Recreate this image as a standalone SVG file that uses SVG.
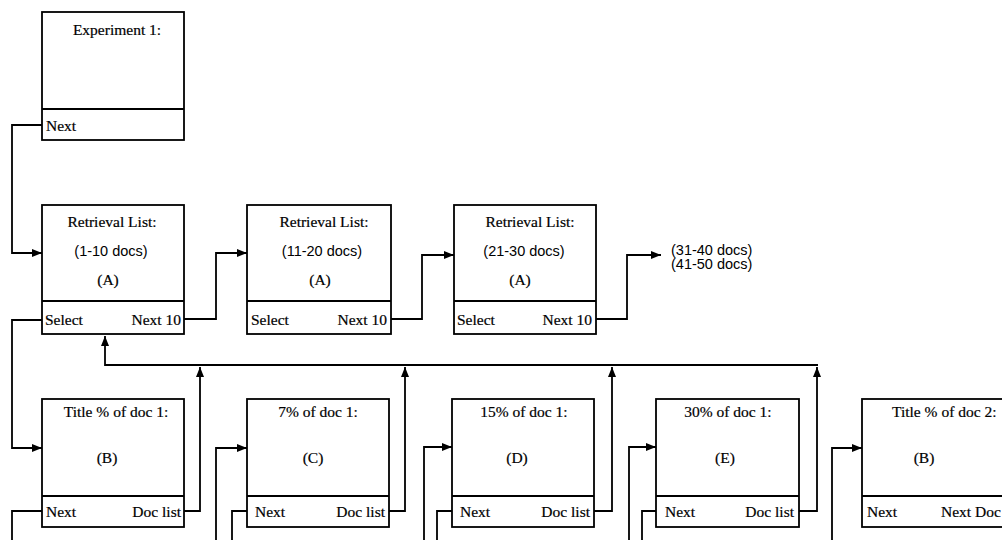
<svg xmlns="http://www.w3.org/2000/svg" width="1002" height="540" viewBox="0 0 1002 540">
<style>
.box{fill:#fff;stroke:#000;stroke-width:1.8}
.div{stroke:#000;stroke-width:1.8}
.t{font-family:"Liberation Serif","Times New Roman",serif;font-size:15.5px;fill:#000;stroke:#000;stroke-width:0.2}
.s{font-family:"Liberation Sans",Arial,sans-serif;font-size:14.5px;fill:#000}
.m{text-anchor:middle}
.e{text-anchor:end}
.c{fill:none;stroke:#000;stroke-width:1.8}
.a{marker-end:url(#arr)}
</style>
<defs>
<marker id="arr" viewBox="0 0 10 8" refX="10" refY="4" markerWidth="10" markerHeight="8" markerUnits="userSpaceOnUse" orient="auto">
<path d="M0,0 L10,4 L0,8 z" fill="#000"/>
</marker>
</defs>
<rect width="1002" height="540" fill="#fff"/>
<g id="connectors">
<path class="c a" d="M42,125 H12 V253 H42"/>
<path class="c a" d="M42,320 H12 V448 H42"/>
<path class="c a" d="M184,319 H216 V253 H247"/>
<path class="c a" d="M391,319 H422 V255 H454"/>
<path class="c a" d="M596,319 H627 V255 H661"/>
<path class="c a" d="M818,365 H105 V336"/>
<path class="c a" d="M184,511 H200 V367"/>
<path class="c a" d="M389,511 H405 V367"/>
<path class="c a" d="M594,511 H612 V367"/>
<path class="c a" d="M799,511 H817 V367"/>
<path class="c a" d="M216,541 V448 H247"/>
<path class="c a" d="M424,541 V447 H452"/>
<path class="c a" d="M629,541 V447 H656"/>
<path class="c a" d="M832,541 V448 H862"/>
<path class="c" d="M42,511 H12 V541"/>
<path class="c" d="M247,511 H232 V541"/>
<path class="c" d="M452,511 H437 V541"/>
<path class="c" d="M656,511 H642 V541"/>
</g>
<g id="experiment">
<rect class="box" x="42" y="12" width="142" height="128"/>
<line class="div" x1="42" y1="109" x2="184" y2="109"/>
<text class="t m" x="117" y="35">Experiment 1:</text>
<text class="t" x="46" y="131">Next</text>
</g>
<g id="rl1">
<rect class="box" x="42" y="205" width="142" height="129"/>
<line class="div" x1="42" y1="301" x2="184" y2="301"/>
<text class="t m" x="112" y="227">Retrieval List:</text>
<text class="s m" x="111" y="256">(1-10 docs)</text>
<text class="t m" x="108" y="285">(A)</text>
<text class="t" x="45" y="325">Select</text>
<text class="t e" x="181" y="325">Next 10</text>
</g>
<g id="rl2">
<rect class="box" x="247" y="205" width="144" height="129"/>
<line class="div" x1="247" y1="301" x2="391" y2="301"/>
<text class="t m" x="324" y="227">Retrieval List:</text>
<text class="s m" x="322" y="256">(11-20 docs)</text>
<text class="t m" x="320" y="285">(A)</text>
<text class="t" x="251" y="325">Select</text>
<text class="t e" x="387" y="325">Next 10</text>
</g>
<g id="rl3">
<rect class="box" x="454" y="205" width="142" height="129"/>
<line class="div" x1="454" y1="301" x2="596" y2="301"/>
<text class="t m" x="530" y="227">Retrieval List:</text>
<text class="s m" x="524" y="256">(21-30 docs)</text>
<text class="t m" x="520" y="285">(A)</text>
<text class="t" x="457" y="325">Select</text>
<text class="t e" x="592" y="325">Next 10</text>
</g>
<g id="more">
<text class="s" x="671" y="255">(31-40 docs)</text>
<text class="s" x="671" y="269">(41-50 docs)</text>
</g>
<g id="title1">
<rect class="box" x="42" y="399" width="142" height="128"/>
<line class="div" x1="42" y1="496" x2="184" y2="496"/>
<text class="t m" x="116" y="417">Title % of doc 1:</text>
<text class="t m" x="107" y="463">(B)</text>
<text class="t" x="46" y="517">Next</text>
<text class="t e" x="181" y="517">Doc list</text>
</g>
<g id="pct7">
<rect class="box" x="247" y="399" width="142" height="128"/>
<line class="div" x1="247" y1="496" x2="389" y2="496"/>
<text class="t m" x="318" y="417">7% of doc 1:</text>
<text class="t m" x="313" y="463">(C)</text>
<text class="t" x="255" y="517">Next</text>
<text class="t e" x="385" y="517">Doc list</text>
</g>
<g id="pct15">
<rect class="box" x="452" y="399" width="142" height="128"/>
<line class="div" x1="452" y1="496" x2="594" y2="496"/>
<text class="t m" x="524" y="417">15% of doc 1:</text>
<text class="t m" x="517" y="463">(D)</text>
<text class="t" x="460" y="517">Next</text>
<text class="t e" x="590" y="517">Doc list</text>
</g>
<g id="pct30">
<rect class="box" x="656" y="399" width="143" height="128"/>
<line class="div" x1="656" y1="496" x2="799" y2="496"/>
<text class="t m" x="728" y="417">30% of doc 1:</text>
<text class="t m" x="725" y="463">(E)</text>
<text class="t" x="665" y="517">Next</text>
<text class="t e" x="794" y="517">Doc list</text>
</g>
<g id="title2">
<rect class="box" x="862" y="399" width="142" height="128"/>
<line class="div" x1="862" y1="496" x2="1004" y2="496"/>
<text class="t" x="892" y="417">Title % of doc 2:</text>
<text class="t m" x="924" y="463">(B)</text>
<text class="t" x="867" y="517">Next</text>
<text class="t" x="941" y="517">Next Doc</text>
</g>
</svg>
